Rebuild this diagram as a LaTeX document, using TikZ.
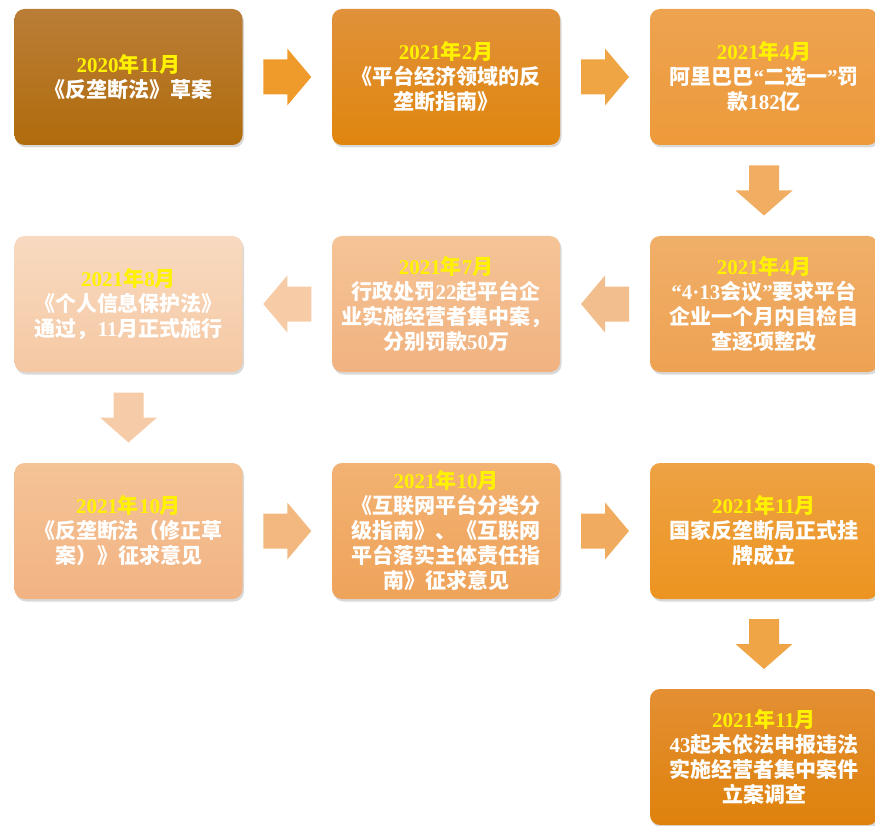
\documentclass[tikz,border=0pt]{standalone}
\usepackage{fontspec}
\setmainfont{Noto Sans CJK SC}
\newfontfamily\lat{Liberation Serif}
\usetikzlibrary{shadows,calc}
\newcommand\nm[1]{{\lat #1}}
\newcommand\yr[1]{\textcolor{yellow}{#1}}
\definecolor{cA1}{HTML}{BA7D36}\definecolor{cA2}{HTML}{B06C0C}
\definecolor{cB1}{HTML}{E0913A}\definecolor{cB2}{HTML}{E0860E}
\definecolor{cC1}{HTML}{EEA350}\definecolor{cC2}{HTML}{ED9A3A}
\definecolor{cD1}{HTML}{F0AF68}\definecolor{cD2}{HTML}{EEA253}
\definecolor{cE1}{HTML}{F5C496}\definecolor{cE2}{HTML}{F1B280}
\definecolor{cF1}{HTML}{F8DAC0}\definecolor{cF2}{HTML}{F5C8A3}
\definecolor{cG1}{HTML}{F4C396}\definecolor{cG2}{HTML}{F2B383}
\definecolor{cH1}{HTML}{F2B273}\definecolor{cH2}{HTML}{EFA35A}
\definecolor{cI1}{HTML}{EEA244}\definecolor{cI2}{HTML}{EC9420}
\definecolor{cJ1}{HTML}{E38F33}\definecolor{cJ2}{HTML}{DF820C}
\definecolor{aA}{HTML}{EE9B2C}\definecolor{aB}{HTML}{F0A544}
\definecolor{aC}{HTML}{F1AD62}\definecolor{aD}{HTML}{F3BE8E}
\definecolor{aE}{HTML}{F6CBA6}\definecolor{aF}{HTML}{F6CBA8}
\definecolor{aG}{HTML}{F3B880}\definecolor{aH}{HTML}{F0AB5E}
\definecolor{aI}{HTML}{EFA545}
\tikzset{
  box/.style 2 args={rounded corners=10pt, minimum width=228pt, minimum height=136pt,
    inner sep=0pt, align=center, text=white,
    font=\fontsize{21}{25}\selectfont\bfseries,
    top color=#1, bottom color=#2,
    drop shadow={opacity=0.3, shadow xshift=1.5pt, shadow yshift=-2.5pt}},
  rarr/.pic={\fill[#1] (-24,-17.5) -- (0,-17.5) -- (0,-28.5) -- (24,0) -- (0,28.5) -- (0,17.5) -- (-24,17.5) -- cycle;},
  larr/.pic={\fill[#1] (24,-17.5) -- (0,-17.5) -- (0,-28.5) -- (-24,0) -- (0,28.5) -- (0,17.5) -- (24,17.5) -- cycle;},
  darr/.pic={\fill[#1] (-15,-25) -- (15,-25) -- (15,0) -- (28.5,0) -- (0,25) -- (-28.5,0) -- (-15,0) -- cycle;}
}
\begin{document}
\begin{tikzpicture}[x=1pt,y=-1pt]
\useasboundingbox (0,0) rectangle (875,826);
\node[box={cA1}{cA2}] (b1) at (128.5,77) {\yr{\nm{2020}年\nm{11}月}\\《反垄断法》草案};
\node[box={cB1}{cB2}] (b2) at (446,77) {\yr{\nm{2021}年\nm{2}月}\\《平台经济领域的反\\垄断指南》};
\node[box={cC1}{cC2}] (b3) at (764,77) {\yr{\nm{2021}年\nm{4}月}\\阿里巴巴\nm{“}二选一\nm{”}罚\\款\nm{182}亿};
\node[box={cD1}{cD2}] (b4) at (764,304) {\yr{\nm{2021}年\nm{4}月}\\\nm{“4·13}会议\nm{”}要求平台\\企业一个月内自检自\\查逐项整改};
\node[box={cE1}{cE2}] (b5) at (446,304) {\yr{\nm{2021}年\nm{7}月}\\行政处罚\nm{22}起平台企\\业实施经营者集中案，\\分别罚款\nm{50}万};
\node[box={cF1}{cF2}] (b6) at (128.5,304) {\yr{\nm{2021}年\nm{8}月}\\《个人信息保护法》\\通过，\nm{11}月正式施行};
\node[box={cG1}{cG2}] (b7) at (128.5,531) {\yr{\nm{2021}年\nm{10}月}\\《反垄断法（修正草\\案）》征求意见};
\node[box={cH1}{cH2}] (b8) at (446,531) {\yr{\nm{2021}年\nm{10}月}\\《互联网平台分类分\\级指南》、《互联网\\平台落实主体责任指\\南》征求意见};
\node[box={cI1}{cI2}] (b9) at (764,531) {\yr{\nm{2021}年\nm{11}月}\\国家反垄断局正式挂\\牌成立};
\node[box={cJ1}{cJ2}] (b10) at (764,757) {\yr{\nm{2021}年\nm{11}月}\\\nm{43}起未依法申报违法\\实施经营者集中案件\\立案调查};
\pic at ($(b1.east)!0.5!(b2.west)$) {rarr=aA};
\pic at ($(b2.east)!0.5!(b3.west)$) {rarr=aB};
\pic at ($(b3.south)!0.5!(b4.north)$) {darr=aC};
\pic at ($(b4.west)!0.5!(b5.east)$) {larr=aD};
\pic at ($(b5.west)!0.5!(b6.east)$) {larr=aE};
\pic at ($(b6.south)!0.5!(b7.north)$) {darr=aF};
\pic at ($(b7.east)!0.5!(b8.west)$) {rarr=aG};
\pic at ($(b8.east)!0.5!(b9.west)$) {rarr=aH};
\pic at ($(b9.south)!0.5!(b10.north)$) {darr=aI};
\end{tikzpicture}
\end{document}
